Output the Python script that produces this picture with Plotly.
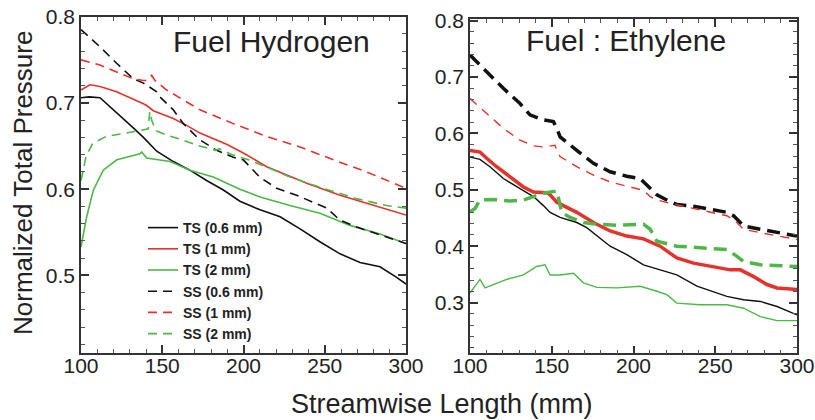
import plotly.graph_objects as go

# ---------------- Data: Fuel Hydrogen (left panel) ----------------
H_TS06_x = [100, 105, 111.7, 121.9, 132.2, 138.4, 146.6, 156.8, 167, 177.3, 187.6, 197.8, 210.2, 222.5, 234.8, 247, 259.4, 271.7, 284, 294, 300]
H_TS06_y = [0.706, 0.707, 0.706, 0.689, 0.671, 0.660, 0.644, 0.632, 0.622, 0.610, 0.599, 0.586, 0.576, 0.568, 0.554, 0.539, 0.525, 0.515, 0.510, 0.498, 0.490]

H_TS1_x = [100, 105.5, 111.7, 121.9, 138.4, 140.4, 144.5, 156.8, 165, 173.2, 189.6, 199.9, 214.3, 238.9, 259.4, 280, 300]
H_TS1_y = [0.715, 0.721, 0.719, 0.713, 0.699, 0.697, 0.691, 0.682, 0.674, 0.665, 0.652, 0.642, 0.626, 0.607, 0.593, 0.581, 0.570]

H_TS2_x = [100, 103.5, 107.6, 113.7, 122, 130.2, 136.3, 137.3, 140.4, 154.8, 167, 181.4, 197.8, 210.2, 228.6, 247, 265.5, 284, 300]
H_TS2_y = [0.533, 0.568, 0.599, 0.622, 0.634, 0.638, 0.641, 0.643, 0.636, 0.632, 0.622, 0.614, 0.600, 0.591, 0.581, 0.572, 0.558, 0.548, 0.537]

H_SS06_x = [100, 111.7, 121.9, 132.2, 138.4, 144.5, 146.6, 148.6, 156.8, 163, 173.2, 183.5, 193.7, 199.9, 204, 210, 220.4, 232.7, 251.2, 259.4, 269.7, 284, 300]
H_SS06_y = [0.785, 0.765, 0.746, 0.728, 0.723, 0.715, 0.713, 0.707, 0.692, 0.676, 0.657, 0.645, 0.637, 0.634, 0.626, 0.614, 0.601, 0.593, 0.578, 0.564, 0.556, 0.547, 0.537]

H_SS1_x = [100, 111.7, 121.9, 132.2, 138.4, 140.4, 143.5, 145.5, 152.7, 163, 173.2, 193.7, 214.3, 234.8, 255.3, 275.8, 300]
H_SS1_y = [0.750, 0.744, 0.736, 0.728, 0.726, 0.726, 0.732, 0.726, 0.715, 0.703, 0.692, 0.676, 0.661, 0.649, 0.634, 0.620, 0.601]

H_SS2_x = [100, 103.1, 107.2, 115.4, 127.7, 138, 141.4, 142.3, 143.5, 146, 152.3, 162.6, 173, 183, 185, 193, 203, 214, 228.6, 249, 269.5, 288, 300]
H_SS2_y = [0.610, 0.638, 0.653, 0.661, 0.665, 0.669, 0.670, 0.690, 0.680, 0.668, 0.663, 0.657, 0.650, 0.645, 0.647, 0.640, 0.634, 0.626, 0.614, 0.601, 0.589, 0.581, 0.578]

# ---------------- Data: Fuel Ethylene (right panel) ----------------
E_TS06_x = [100, 106.1, 112.2, 120.4, 130.6, 138.8, 144.9, 149, 155.1, 165.3, 171.4, 177.6, 185.7, 195.9, 206.1, 216.3, 226.5, 238.8, 257.1, 267.3, 277.6, 287.8, 300]
E_TS06_y = [0.558, 0.554, 0.541, 0.520, 0.502, 0.488, 0.472, 0.460, 0.451, 0.442, 0.433, 0.418, 0.400, 0.385, 0.367, 0.358, 0.349, 0.329, 0.311, 0.305, 0.302, 0.293, 0.278]

E_TS1_x = [100, 106.1, 110.2, 116.3, 124.5, 132.7, 138.8, 146.9, 149, 153.1, 157.1, 165.3, 175.5, 185.7, 195.9, 206.1, 216.3, 226.5, 236.7, 246.9, 259.2, 265.3, 273.5, 281.6, 287.8, 300]
E_TS1_y = [0.570, 0.567, 0.556, 0.541, 0.523, 0.505, 0.496, 0.495, 0.491, 0.478, 0.472, 0.460, 0.442, 0.427, 0.418, 0.413, 0.400, 0.379, 0.370, 0.364, 0.358, 0.358, 0.346, 0.332, 0.326, 0.323]

E_TS2_x = [100, 104.1, 106.1, 109.2, 114.3, 122.4, 132.7, 140.8, 145.9, 149, 155.1, 163.3, 169.4, 177.6, 189.8, 204.1, 214.3, 220.4, 226.5, 240.8, 257.1, 267.3, 277.6, 287.8, 300]
E_TS2_y = [0.317, 0.332, 0.341, 0.326, 0.332, 0.341, 0.349, 0.364, 0.367, 0.349, 0.349, 0.352, 0.335, 0.327, 0.326, 0.329, 0.320, 0.314, 0.299, 0.296, 0.296, 0.290, 0.275, 0.268, 0.268]

E_SS06_x = [100, 110.2, 120.4, 130.6, 136.7, 144.9, 151, 153.1, 155.1, 165.3, 175.5, 185.7, 195.9, 204.1, 208.2, 214.3, 222.4, 226.5, 236.7, 246.9, 257.1, 261.2, 267.3, 277.6, 287.8, 300]
E_SS06_y = [0.739, 0.709, 0.680, 0.653, 0.633, 0.624, 0.621, 0.609, 0.594, 0.570, 0.547, 0.532, 0.524, 0.520, 0.508, 0.491, 0.479, 0.474, 0.471, 0.465, 0.460, 0.454, 0.436, 0.430, 0.424, 0.418]

E_SS1_x = [100, 110.2, 120.4, 130.6, 138.8, 144.9, 152, 153.1, 155.1, 165.3, 175.5, 185.7, 195.9, 206.1, 210.2, 214.3, 222.4, 236.7, 257.1, 262.2, 267.3, 277.6, 300]
E_SS1_y = [0.662, 0.636, 0.609, 0.588, 0.578, 0.576, 0.579, 0.570, 0.559, 0.541, 0.526, 0.514, 0.507, 0.499, 0.488, 0.482, 0.476, 0.467, 0.454, 0.445, 0.430, 0.424, 0.412]

E_SS2_x = [100, 103.1, 106.1, 114.3, 124.5, 132.7, 138.8, 144.9, 153.1, 154.1, 155.1, 156.1, 161.2, 169.4, 177.6, 189.8, 206.1, 210.2, 214.3, 226.5, 246.9, 257.1, 263.3, 267.3, 277.6, 300]
E_SS2_y = [0.461, 0.467, 0.482, 0.483, 0.480, 0.482, 0.488, 0.494, 0.498, 0.482, 0.473, 0.460, 0.451, 0.442, 0.439, 0.437, 0.439, 0.430, 0.409, 0.400, 0.395, 0.394, 0.382, 0.373, 0.367, 0.364]

LEGEND_NAMES = ["TS (0.6 mm)", "TS (1 mm)", "TS (2 mm)", "SS (0.6 mm)", "SS (1 mm)", "SS (2 mm)"]
X_TICKS = [100, 150, 200, 250, 300]
Y_TICKS_LEFT = [0.5, 0.6, 0.7, 0.8]
Y_TICKS_RIGHT = [0.3, 0.4, 0.5, 0.6, 0.7, 0.8]

BLACK = "#111111"
RED = "#E5322B"
GREEN = "#4DB848"
FONT = "Liberation Sans, Arial, sans-serif"

fig = go.Figure()

left_series = [
    (H_TS06_x, H_TS06_y, BLACK, "solid"),
    (H_TS1_x, H_TS1_y, RED, "solid"),
    (H_TS2_x, H_TS2_y, GREEN, "solid"),
    (H_SS06_x, H_SS06_y, BLACK, "9px,6px"),
    (H_SS1_x, H_SS1_y, RED, "9px,6px"),
    (H_SS2_x, H_SS2_y, GREEN, "9px,6px"),
]
for name, (xs, ys, col, dash) in zip(LEGEND_NAMES, left_series):
    fig.add_trace(go.Scatter(x=xs, y=ys, mode="lines", name=name,
                             line=dict(color=col, width=1.6, dash=dash),
                             xaxis="x", yaxis="y"))

right_series = [
    (E_TS06_x, E_TS06_y, BLACK, "solid", 1.4),
    (E_TS1_x, E_TS1_y, RED, "solid", 3.5),
    (E_TS2_x, E_TS2_y, GREEN, "solid", 1.4),
    (E_SS06_x, E_SS06_y, BLACK, "13px,7px", 3.5),
    (E_SS1_x, E_SS1_y, RED, "9px,7px", 1.4),
    (E_SS2_x, E_SS2_y, GREEN, "13px,7px", 3.5),
]
for name, (xs, ys, col, dash, w) in zip(LEGEND_NAMES, right_series):
    fig.add_trace(go.Scatter(x=xs, y=ys, mode="lines", name=name, showlegend=False,
                             line=dict(color=col, width=w, dash=dash),
                             xaxis="x2", yaxis="y2"))

axis_common = dict(showline=True, linecolor="#333333", linewidth=1.6, mirror="allticks",
                   ticks="inside", ticklen=8, tickwidth=1.6, tickcolor="#333333",
                   showgrid=False, zeroline=False, automargin=False,
                   tickfont=dict(family=FONT, size=21, color="#222222"))
minor_x = dict(dtick=10, ticks="inside", ticklen=4, tickcolor="#555555", tickwidth=1, showgrid=False)
minor_y = dict(dtick=0.02, ticks="inside", ticklen=4, tickcolor="#555555", tickwidth=1, showgrid=False)

fig.update_layout(
    width=815, height=420,
    margin=dict(l=0, r=0, t=0, b=0, autoexpand=False),
    paper_bgcolor="white", plot_bgcolor="white",
    font=dict(family=FONT, color="#222222"),
    xaxis=dict(domain=[81/815, 406/815], range=[100, 300], tickvals=X_TICKS,
               minor=minor_x, anchor="y", ticklabelstandoff=-7, **axis_common),
    yaxis=dict(domain=[1 - 353/420, 1 - 16.7/420], range=[0.41, 0.80], tickvals=Y_TICKS_LEFT,
               tickformat=".1f", minor=minor_y, anchor="x", **axis_common),
    xaxis2=dict(domain=[470/815, 797/815], range=[100, 300], tickvals=X_TICKS,
                minor=minor_x, anchor="y2", ticklabelstandoff=-7, **axis_common),
    yaxis2=dict(domain=[1 - 353.3/420, 1 - 19.3/420], range=[0.21, 0.8025], tickvals=Y_TICKS_RIGHT,
                tickformat=".1f", minor=minor_y, anchor="x2", **axis_common),
    legend=dict(x=143/815, y=1 - 212/420, xanchor="left", yanchor="top",
                bgcolor="rgba(0,0,0,0)", tracegroupgap=0,
                font=dict(family=FONT, size=14, color="#222222", weight="bold")),
    showlegend=True,
    annotations=[
        dict(text="Fuel Hydrogen", x=(173 + 370) / 2 / 815, y=1 - 42/420, xref="paper", yref="paper",
             showarrow=False, xanchor="center", yanchor="middle",
             font=dict(family=FONT, size=30, color="#222222")),
        dict(text="Fuel : Ethylene", x=626/815, y=1 - 40/420, xref="paper", yref="paper",
             showarrow=False, xanchor="center", yanchor="middle",
             font=dict(family=FONT, size=30, color="#222222")),
        dict(text="Normalized Total Pressure", x=23/815, y=1 - 183/420, xref="paper", yref="paper",
             showarrow=False, textangle=-90, xanchor="center", yanchor="middle",
             font=dict(family=FONT, size=26, color="#222222")),
        dict(text="Streamwise Length (mm)", x=442/815, y=1 - 404/420, xref="paper", yref="paper",
             showarrow=False, xanchor="center", yanchor="middle",
             font=dict(family=FONT, size=27, color="#222222")),
    ],
)

fig.write_html("out.html")
